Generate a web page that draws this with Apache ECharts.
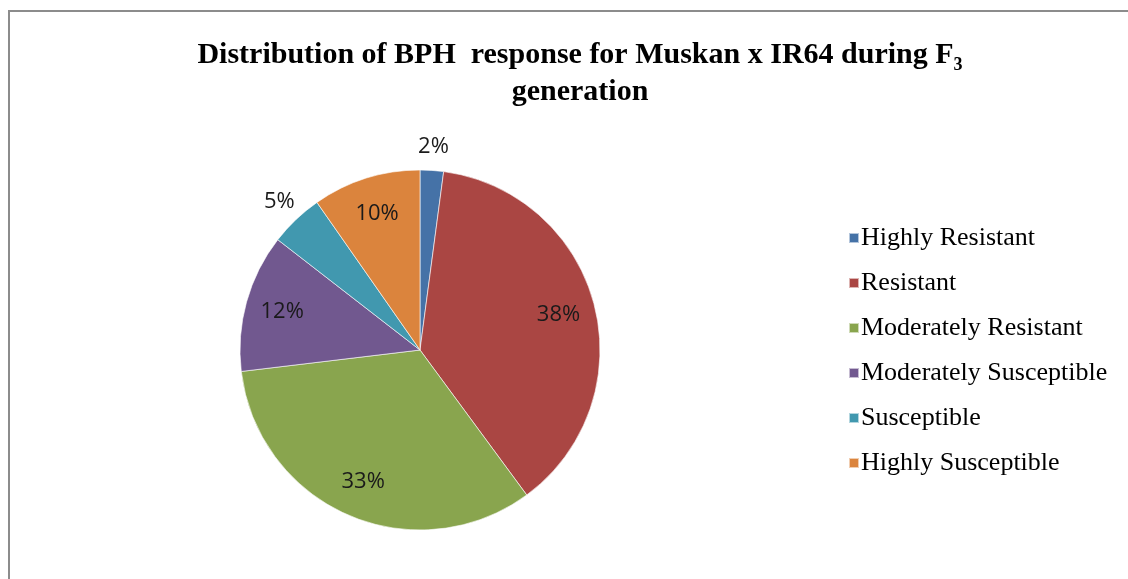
<!DOCTYPE html>
<html>
<head>
<meta charset="utf-8">
<style>
  html, body { margin: 0; padding: 0; background: #fff; }
  #chart { width: 1128px; height: 579px; }
</style>
<script src="https://cdn.jsdelivr.net/npm/echarts@6/dist/echarts.min.js"></script>
</head>
<body>
<div id="chart"></div>
<script>
// response classes and their share (%)
const categories = ['Highly Resistant', 'Resistant', 'Moderately Resistant', 'Moderately Susceptible', 'Susceptible', 'Highly Susceptible']
const shares = [2.1, 37.8, 33.2, 12.4, 4.8, 9.7]
const outsideLabels = ['Highly Resistant', 'Susceptible']
const colors = ['#4572A7', '#AA4643', '#89A54E', '#71588F', '#4198AF', '#DB843D']

const chart = echarts.init(document.getElementById('chart'))

const center = [420, 350]
const pieData = categories.map((name, i) => ({ name, value: shares[i] }))
const pctFormatter = (p) => Math.round(p.percent) + '%'
const labelFont = { fontFamily: 'Open Sans', fontSize: 22, color: '#1a1a1a' }

// transparent rings carry the labels at the right distance from centre
const labelRing = (radius, showFn) => ({
  type: 'pie',
  silent: true,
  center: center,
  radius: radius,
  startAngle: 90,
  clockwise: true,
  itemStyle: { color: 'rgba(0,0,0,0)' },
  labelLine: { show: false },
  emphasis: { disabled: true },
  data: pieData.map(d => ({
    name: d.name,
    value: d.value,
    label: Object.assign({ show: showFn(d.name), position: 'inside', formatter: pctFormatter }, labelFont)
  }))
})

const options = {
  color: colors,
  animation: false,
  graphic: [{
    type: 'rect',
    shape: { x: 9, y: 11, width: 1300, height: 800 },
    style: { fill: 'none', stroke: '#8c8c8c', lineWidth: 2 },
    silent: true
  }],
  title: {
    text: 'Distribution of BPH  response for Muskan x IR64 during F{sub|3}\n{l2|generation}',
    left: 575,
    textAlign: 'center',
    top: 32,
    textStyle: {
      fontFamily: 'Liberation Serif',
      fontWeight: 'bold',
      fontSize: 30,
      color: '#000',
      lineHeight: 37,
      rich: {
        sub: { fontFamily: 'Liberation Serif', fontWeight: 'bold', fontSize: 18, verticalAlign: 'bottom', padding: [14, 0, 0, 0], color: '#000' },
        l2: { fontFamily: 'Liberation Serif', fontWeight: 'bold', fontSize: 30, color: '#000' }
      }
    }
  },
  legend: {
    orient: 'vertical',
    left: 843,
    top: 220,
    itemWidth: 10,
    itemHeight: 10,
    itemGap: 19,
    icon: 'rect',
    data: categories,
    selectedMode: false,
    textStyle: { fontFamily: 'Liberation Serif', fontSize: 26, lineHeight: 26, color: '#000', padding: [0, 0, 0, -3] }
  },
  series: [
    {
      type: 'pie',
      center: center,
      radius: [0, 180],
      startAngle: 90,
      clockwise: true,
      label: { show: false },
      labelLine: { show: false },
      itemStyle: { borderColor: 'rgba(255,255,255,0.6)', borderWidth: 1 },
      emphasis: { disabled: true },
      data: pieData
    },
    labelRing([100, 180], name => !outsideLabels.includes(name)),
    labelRing([180, 222], name => outsideLabels.includes(name))
  ]
}

chart.setOption(options)
</script>
</body>
</html>
